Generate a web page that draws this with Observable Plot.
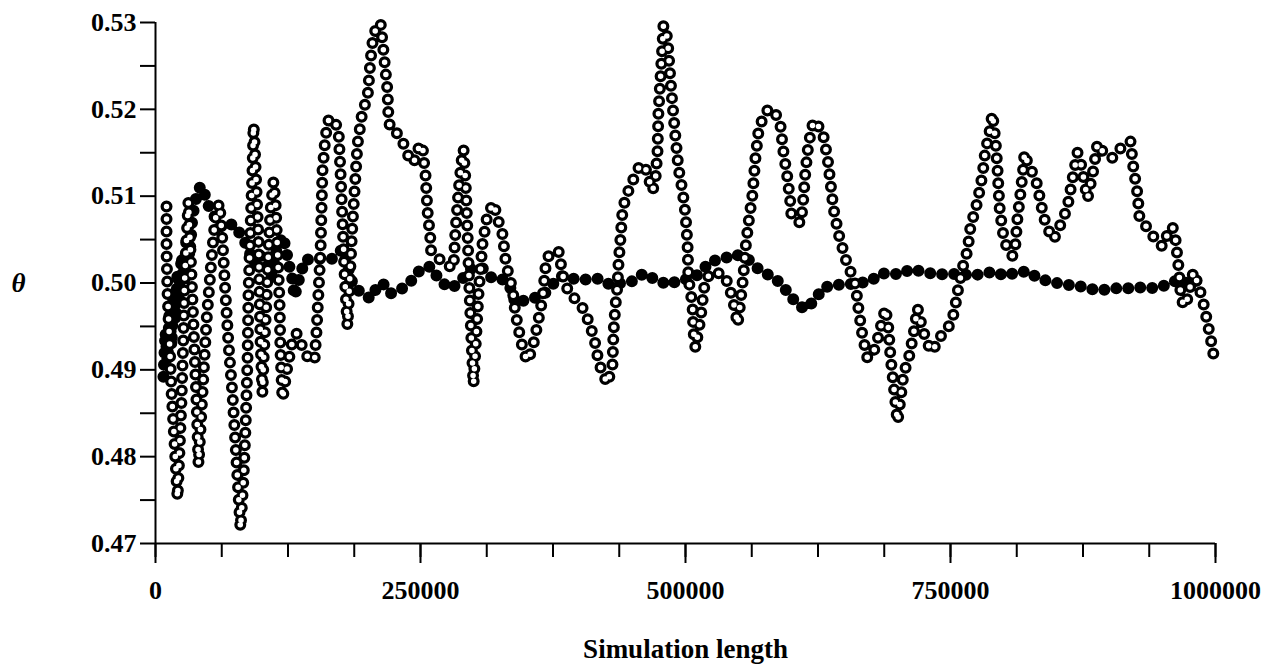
<!DOCTYPE html>
<html><head><meta charset="utf-8">
<script src="https://cdn.jsdelivr.net/npm/d3@7"></script>
<script src="https://cdn.jsdelivr.net/npm/@observablehq/plot@0.6"></script>
<style>
html,body{margin:0;padding:0;background:#fff;}
#chart svg{display:block;}
</style></head><body><div id="chart"></div>
<script>
// [simulation length, theta] — open-circle estimate
const openCircles = [[10400,0.5088],[10400,0.5037],[11300,0.4990],[13200,0.4933],[15100,0.4875],[17900,0.4817],[20800,0.4752],[22600,0.4806],[24500,0.4864],[26400,0.4944],[27400,0.5002],[29200,0.5048],[31100,0.5094],[33000,0.5037],[34900,0.4979],[36800,0.4921],[38700,0.4864],[40600,0.4791],[45300,0.4895],[48100,0.4956],[51900,0.5013],[54700,0.5054],[57500,0.5083],[60400,0.5092],[63200,0.5048],[66000,0.4987],[68900,0.4929],[72600,0.4872],[75500,0.4814],[78300,0.4756],[80200,0.4717],[83000,0.4775],[84900,0.4832],[86800,0.4910],[87700,0.4987],[89600,0.5063],[91500,0.5129],[92500,0.5182],[93400,0.5163],[95300,0.5106],[97200,0.5048],[98100,0.4990],[99100,0.4933],[100900,0.4873],[101900,0.4910],[104700,0.4979],[106600,0.5037],[108500,0.5083],[111300,0.5117],[113200,0.5094],[115100,0.5037],[117000,0.4979],[117900,0.4921],[119800,0.4866],[124500,0.4904],[129200,0.4933],[133000,0.4942],[137700,0.4929],[143400,0.4915],[150000,0.4910],[151900,0.4944],[153800,0.4990],[155700,0.5037],[156600,0.5083],[157500,0.5129],[160400,0.5169],[163200,0.5187],[167000,0.5190],[172600,0.5177],[174500,0.5129],[176400,0.5071],[178300,0.5013],[181100,0.4950],[185800,0.5068],[190600,0.5160],[195300,0.5198],[200000,0.5213],[202800,0.5256],[205700,0.5287],[212300,0.5300],[215100,0.5267],[218900,0.5221],[219800,0.5190],[221700,0.5177],[228300,0.5172],[234000,0.5160],[238700,0.5146],[243400,0.5138],[248100,0.5155],[251900,0.5160],[252800,0.5144],[254700,0.5125],[256600,0.5083],[259400,0.5050],[260000,0.5037],[271700,0.5023],[281100,0.5017],[283000,0.5060],[285900,0.5106],[288700,0.5140],[290600,0.5154],[292500,0.5117],[294300,0.5060],[296200,0.4990],[298100,0.4933],[300000,0.4883],[304700,0.4987],[308500,0.5045],[313200,0.5079],[318900,0.5092],[323600,0.5071],[327400,0.5056],[330200,0.5027],[333000,0.5010],[336800,0.4993],[339600,0.4965],[344300,0.4936],[347200,0.4921],[350900,0.4910],[355700,0.4925],[360400,0.4952],[365100,0.4982],[367900,0.5017],[370800,0.5031],[380200,0.5037],[384900,0.5005],[389600,0.4990],[396200,0.4981],[403800,0.4970],[408500,0.4956],[412300,0.4942],[415100,0.4929],[417900,0.4910],[421700,0.4896],[426400,0.4884],[431100,0.4906],[432100,0.4944],[434000,0.4975],[435900,0.4998],[436800,0.5022],[438700,0.5052],[440600,0.5083],[443400,0.5098],[448100,0.5112],[452800,0.5125],[457500,0.5137],[462300,0.5132],[465100,0.5121],[468900,0.5106],[471700,0.5120],[473600,0.5152],[474500,0.5198],[476400,0.5236],[478300,0.5275],[479200,0.5297],[483000,0.5282],[484000,0.5264],[485900,0.5233],[487700,0.5206],[490600,0.5167],[493400,0.5132],[497200,0.5106],[500000,0.5079],[501900,0.5045],[502800,0.5005],[506600,0.4975],[507500,0.4944],[509400,0.4925],[514200,0.4959],[517000,0.4990],[518900,0.5004],[525500,0.5013],[535900,0.5010],[540600,0.4998],[544300,0.4982],[547200,0.4967],[549100,0.4952],[551900,0.4979],[554700,0.5010],[556600,0.5040],[559400,0.5069],[563200,0.5102],[566000,0.5144],[568900,0.5175],[572600,0.5189],[578300,0.5201],[584900,0.5195],[589600,0.5181],[592500,0.5150],[596200,0.5121],[599100,0.5091],[600000,0.5077],[608500,0.5069],[610400,0.5086],[613200,0.5129],[616000,0.5160],[620800,0.5187],[629200,0.5175],[634000,0.5144],[636800,0.5115],[639600,0.5086],[644300,0.5057],[650900,0.5028],[655700,0.5013],[660400,0.4998],[663200,0.4970],[667000,0.4939],[671700,0.4913],[679200,0.4925],[685900,0.4958],[688700,0.4971],[691500,0.4947],[693400,0.4915],[696200,0.4884],[700000,0.4840],[702800,0.4866],[705700,0.4896],[710400,0.4912],[715100,0.4941],[718900,0.4971],[723600,0.4947],[728300,0.4930],[733000,0.4921],[738700,0.4936],[747200,0.4947],[751900,0.4959],[754700,0.4975],[757600,0.4996],[762300,0.5022],[766000,0.5037],[768900,0.5065],[775500,0.5094],[780200,0.5125],[783000,0.5154],[785900,0.5167],[789600,0.5195],[792500,0.5163],[794300,0.5132],[796200,0.5088],[799100,0.5060],[801900,0.5045],[808500,0.5031],[811300,0.5045],[813200,0.5075],[816000,0.5103],[818900,0.5135],[819800,0.5150],[823600,0.5135],[830200,0.5121],[833000,0.5106],[837700,0.5077],[841500,0.5063],[847200,0.5050],[851900,0.5062],[856600,0.5075],[860400,0.5088],[865100,0.5120],[869800,0.5150],[872600,0.5140],[877400,0.5109],[879200,0.5097],[882100,0.5114],[884900,0.5131],[888700,0.5161],[894300,0.5150],[902800,0.5144],[910400,0.5155],[919800,0.5163],[922600,0.5132],[926400,0.5103],[928300,0.5075],[935900,0.5063],[943400,0.5050],[950000,0.5042],[954700,0.5056],[959400,0.5065],[962300,0.5050],[965100,0.5019],[967000,0.4990],[969800,0.4973],[973600,0.4982],[979200,0.5013],[983000,0.5000],[987700,0.4982],[992500,0.4954],[997200,0.4925],[999100,0.4909]];

// [simulation length, theta] — filled-circle estimate
const filledCircles = [[7500,0.4892],[9400,0.4944],[11300,0.4910],[13200,0.4967],[15100,0.4927],[17000,0.4990],[18900,0.4956],[20800,0.5013],[22600,0.4979],[24500,0.5031],[27400,0.5002],[29200,0.5054],[32100,0.5031],[34900,0.5077],[38700,0.5100],[42500,0.5112],[47200,0.5100],[50900,0.5086],[56600,0.5075],[63200,0.5063],[72600,0.5068],[81100,0.5055],[87700,0.5039],[92500,0.5023],[97200,0.5034],[103800,0.5023],[109400,0.5008],[114200,0.5037],[119800,0.5054],[122600,0.5042],[125500,0.5023],[129200,0.5004],[131100,0.4984],[136800,0.5011],[141500,0.5027],[148100,0.5027],[155700,0.5028],[167000,0.5028],[176400,0.5039],[181100,0.5022],[184000,0.5005],[188700,0.4994],[196200,0.4987],[202800,0.4982],[209400,0.4996],[214200,0.5000],[221700,0.4988],[233000,0.4994],[238700,0.5000],[243400,0.5005],[250000,0.5016],[259400,0.5019],[267000,0.5005],[276400,0.4994],[284900,0.4998],[297200,0.5016],[308500,0.5017],[317900,0.5005],[328300,0.5004],[334900,0.4994],[339600,0.4977],[353800,0.4982],[365100,0.4985],[374500,0.4998],[382100,0.5008],[393400,0.5005],[407500,0.5004],[417900,0.5005],[429200,0.4998],[440600,0.5000],[450000,0.5002],[460400,0.5011],[471700,0.5004],[484000,0.4998],[493400,0.5003],[504700,0.5005],[512300,0.5010],[523600,0.5025],[535900,0.5028],[547200,0.5033],[559400,0.5027],[568900,0.5016],[580200,0.5008],[589600,0.5000],[597200,0.4988],[605700,0.4975],[613200,0.4970],[622600,0.4981],[629200,0.4994],[639600,0.4998],[650900,0.4998],[663200,0.5000],[674500,0.5002],[684000,0.5011],[693400,0.5011],[702800,0.5010],[712300,0.5016],[724500,0.5013],[735900,0.5010],[748100,0.5010],[759400,0.5011],[768900,0.5008],[781100,0.5011],[791500,0.5013],[801900,0.5008],[813200,0.5013],[823600,0.5013],[833000,0.5005],[846200,0.5001],[857600,0.4998],[869800,0.4997],[882100,0.4993],[894300,0.4992],[907600,0.4994],[918900,0.4994],[932100,0.4995],[943400,0.4994],[954700,0.4998],[965100,0.5004],[976400,0.4998],[990600,0.5010]];

const xTicksMajor = [0, 250000, 500000, 750000, 1000000];
const xTicksMinor = [0, 62500, 125000, 187500, 250000, 312500, 375000, 437500, 500000, 562500, 625000, 687500, 750000, 812500, 875000, 937500, 1000000];
const yTicksMajor = [0.47, 0.48, 0.49, 0.50, 0.51, 0.52, 0.53];
const yTickLabels = ["0.47", "0.48", "0.49", "0.50", "0.51", "0.52", "0.53"];
const yTicksMinor = [0.475, 0.485, 0.495, 0.505, 0.515, 0.525];
const xTitle = "Simulation length";
const yTitle = "θ";

const toRows = a => a.map(([x, y]) => ({x, y}));
const openRows = toRows(openCircles);
const filledRows = toRows(filledCircles);

const font = "'Liberation Serif', 'DejaVu Serif', serif";

const chart = Plot.plot({
  width: 1286,
  height: 670,
  marginLeft: 155,
  marginRight: 71,
  marginTop: 22,
  marginBottom: 127,
  x: {domain: [0, 1000000]},
  y: {domain: [0.47, 0.53]},
  style: {fontFamily: font, fontWeight: "bold", fontSize: "26px", color: "black", background: "white", overflow: "visible"},
  marks: [
    Plot.axisX({ticks: xTicksMinor, tickSize: 14, strokeWidth: 2, tickFormat: () => "", label: null}),
    Plot.axisX({ticks: xTicksMajor, tickSize: 20, tickPadding: 17, strokeWidth: 2, tickFormat: d => String(d), label: null, fontSize: 26}),
    Plot.axisY({ticks: yTicksMinor, tickSize: 15, strokeWidth: 2, tickFormat: () => "", label: null}),
    Plot.axisY({ticks: yTicksMajor, tickSize: 15, tickPadding: 4, strokeWidth: 2, tickFormat: d => yTickLabels[yTicksMajor.indexOf(d)], label: null, fontSize: 26}),
    Plot.ruleY([0.47], {strokeWidth: 2}),
    Plot.ruleX([0], {strokeWidth: 2}),
    Plot.line(filledRows, {x: "x", y: "y", stroke: "black", strokeWidth: 12, strokeLinecap: "round", strokeDasharray: "0 12", curve: "linear"}),
    Plot.line(openRows, {x: "x", y: "y", stroke: "black", strokeWidth: 12, strokeLinecap: "round", strokeDasharray: "0 12.5", curve: "linear"}),
    Plot.line(openRows, {x: "x", y: "y", stroke: "white", strokeWidth: 5.5, strokeLinecap: "round", strokeDasharray: "0 12.5", curve: "linear"}),
    Plot.text([yTitle], {frameAnchor: "left", dx: -137, textAnchor: "middle", fontStyle: "italic", fontSize: 27}),
    Plot.text([xTitle], {frameAnchor: "bottom", dy: 114, fontSize: 27})
  ]
});
document.getElementById("chart").appendChild(chart);
</script>
</body></html>
